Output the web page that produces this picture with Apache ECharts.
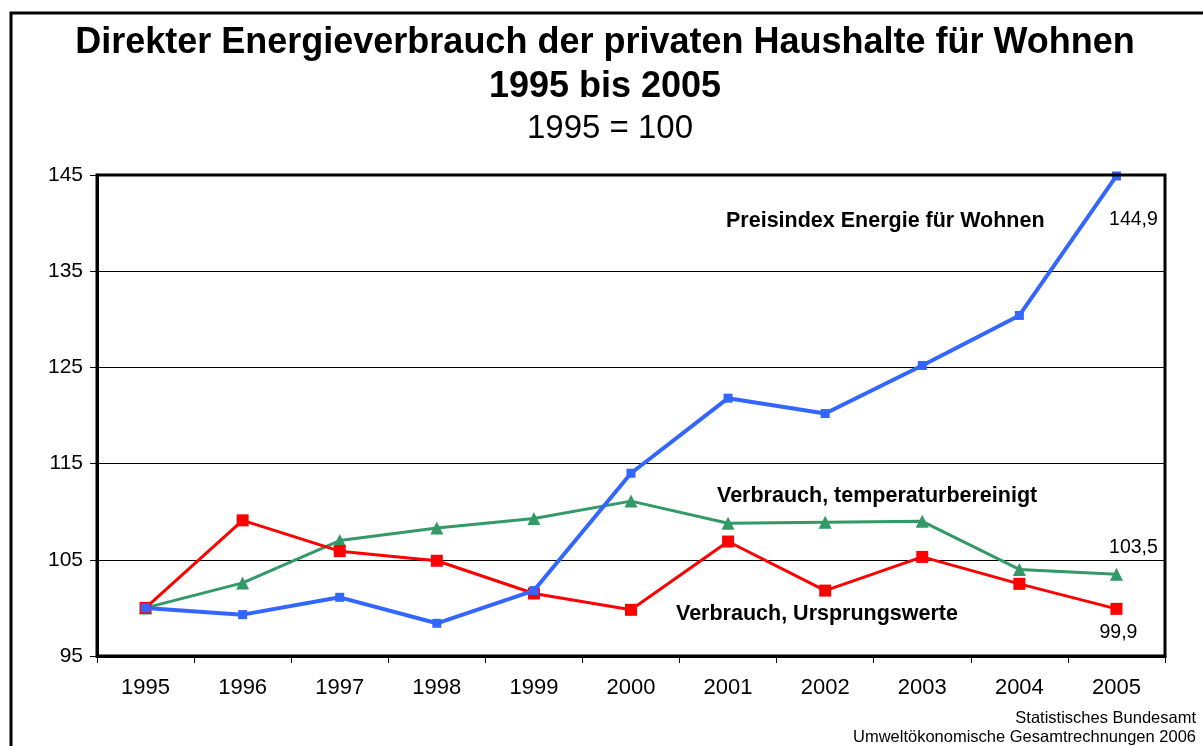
<!DOCTYPE html>
<html>
<head>
<meta charset="utf-8">
<script src="https://cdn.jsdelivr.net/npm/echarts@6/dist/echarts.min.js"></script>
<style>
  html, body { margin: 0; padding: 0; background: #fff; }
  #main { width: 1203px; height: 746px; }
</style>
</head>
<body>
<div id="main"></div>
<script>
// Daten (1995 = 100)
const years = ['1995', '1996', '1997', '1998', '1999', '2000', '2001', '2002', '2003', '2004', '2005'];
const preisindex = [100, 99.3, 101.1, 98.4, 101.8, 114.0, 121.8, 120.2, 125.2, 130.4, 144.9];
const temperaturbereinigt = [100, 102.6, 107.0, 108.3, 109.3, 111.1, 108.8, 108.9, 109.0, 104.0, 103.5];
const ursprungswerte = [100, 109.1, 105.9, 104.9, 101.5, 99.8, 106.9, 101.8, 105.3, 102.5, 99.9];
const yTicks = [95, 105, 115, 125, 135, 145];

const fontFam = '"Liberation Sans", Arial, sans-serif';

// letzter Wert bekommt eine Beschriftung
function withEndLabel(arr, offset) {
    return arr.map((v, i) => {
        if (i !== arr.length - 1) return v;
        return {
            value: v,
            label: {
                show: true,
                formatter: String(v).replace('.', ','),
                fontSize: 19.5,
                fontFamily: fontFam,
                color: '#000',
                position: 'top',
                offset: offset
            }
        };
    });
}

const chart = echarts.init(document.getElementById('main'));

const option = {
    animation: false,
    backgroundColor: '#fff',
    textStyle: { fontFamily: fontFam },
    grid: { left: 97, top: 175, width: 1068, height: 481, show: false },
    xAxis: {
        type: 'category',
        data: years,
        boundaryGap: true,
        axisLine: { lineStyle: { color: '#000', width: 3 } },
        axisTick: { show: true, length: 7, lineStyle: { color: '#000', width: 1 } },
        axisLabel: { fontSize: 22, color: '#000', margin: 21, fontFamily: fontFam }
    },
    yAxis: {
        type: 'value',
        min: yTicks[0],
        max: yTicks[yTicks.length - 1],
        interval: 10,
        axisLine: { show: true, lineStyle: { color: '#000', width: 3 } },
        axisTick: { show: true, length: 7, lineStyle: { color: '#000', width: 1 } },
        axisLabel: { fontSize: 21, color: '#000', margin: 14, fontFamily: fontFam },
        splitLine: { show: true, lineStyle: { color: '#000', width: 1 } }
    },
    series: [
        {
            name: 'Verbrauch, temperaturbereinigt',
            type: 'line',
            data: withEndLabel(temperaturbereinigt, [17, -5]),
            symbol: 'triangle',
            symbolSize: 13,
            lineStyle: { color: '#339966', width: 3 },
            itemStyle: { color: '#339966' },
            z: 3
        },
        {
            name: 'Verbrauch, Ursprungswerte',
            type: 'line',
            data: withEndLabel(ursprungswerte, [2, 45]),
            symbol: 'rect',
            symbolSize: 12,
            lineStyle: { color: '#ff0000', width: 3 },
            itemStyle: { color: '#ff0000' },
            z: 4
        },
        {
            name: 'Preisindex Energie für Wohnen',
            type: 'line',
            data: withEndLabel(preisindex, [17, 63]),
            symbol: 'rect',
            symbolSize: 9,
            lineStyle: { color: '#3366ff', width: 4 },
            itemStyle: { color: '#3366ff' },
            z: 5
        }
    ],
    graphic: [
        {
            type: 'rect',
            shape: { x: 11, y: 13, width: 1220, height: 760 },
            style: { fill: 'none', stroke: '#000', lineWidth: 3 },
            silent: true
        },
        {
            type: 'rect',
            shape: { x: 97, y: 175, width: 1068, height: 481 },
            style: { fill: 'none', stroke: '#000', lineWidth: 3 },
            silent: true,
            z: 10
        },
        {
            type: 'text', x: 605, y: 43,
            style: { text: 'Direkter Energieverbrauch der privaten Haushalte für Wohnen', font: 'bold 36px ' + fontFam, fill: '#000', textAlign: 'center', textVerticalAlign: 'middle' }
        },
        {
            type: 'text', x: 605, y: 87,
            style: { text: '1995 bis 2005', font: 'bold 36px ' + fontFam, fill: '#000', textAlign: 'center', textVerticalAlign: 'middle' }
        },
        {
            type: 'text', x: 610, y: 129,
            style: { text: '1995 = 100', font: '33px ' + fontFam, fill: '#000', textAlign: 'center', textVerticalAlign: 'middle' }
        },
        {
            type: 'text', x: 726, y: 221, z: 20,
            style: { text: 'Preisindex Energie für Wohnen', font: 'bold 21.5px ' + fontFam, fill: '#000', textVerticalAlign: 'middle' }
        },
        {
            type: 'text', x: 717, y: 496, z: 20,
            style: { text: 'Verbrauch, temperaturbereinigt', font: 'bold 21.5px ' + fontFam, fill: '#000', textVerticalAlign: 'middle' }
        },
        {
            type: 'text', x: 676, y: 614, z: 20,
            style: { text: 'Verbrauch, Ursprungswerte', font: 'bold 21.5px ' + fontFam, fill: '#000', textVerticalAlign: 'middle' }
        },
        {
            type: 'text', x: 1196, y: 718,
            style: { text: 'Statistisches Bundesamt', font: '16.5px ' + fontFam, fill: '#000', textAlign: 'right', textVerticalAlign: 'middle' }
        },
        {
            type: 'text', x: 1196, y: 737,
            style: { text: 'Umweltökonomische Gesamtrechnungen 2006', font: '16.5px ' + fontFam, fill: '#000', textAlign: 'right', textVerticalAlign: 'middle' }
        }
    ]
};

chart.setOption(option);
</script>
</body>
</html>
